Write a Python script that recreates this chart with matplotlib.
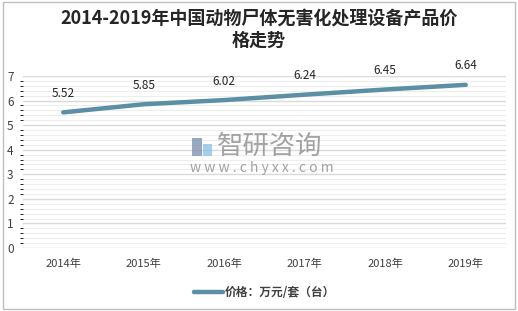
import matplotlib
matplotlib.use("Agg")
import matplotlib.pyplot as plt
from matplotlib.patches import Rectangle
import numpy as np

plt.rcParams['font.family'] = ['Noto Sans CJK SC', 'DejaVu Sans']

years = ["2014年", "2015年", "2016年", "2017年", "2018年", "2019年"]
prices = [5.52, 5.85, 6.02, 6.24, 6.45, 6.64]
yticks = [0, 1, 2, 3, 4, 5, 6, 7]
title = "2014-2019年中国动物尸体无害化处理设备产品价\n格走势"
series_name = "价格：万元/套（台）"

fig = plt.figure(figsize=(5.18, 3.11), dpi=100)
fig.patches.append(Rectangle((0.006, 0.006), 0.988, 0.988, transform=fig.transFigure,
                             fill=False, edgecolor='#BFBFBF', linewidth=1))
ax = fig.add_axes([23/518, 1-248/311, (506-23)/518, (248-76)/311])

x = np.arange(len(years))
line_color = '#5B8FA6'
ax.plot(x, prices, color=line_color, linewidth=3.2, solid_capstyle='round', zorder=3,
        label=series_name)
for xi, v in zip(x, prices):
    ax.annotate(f"{v:.2f}", (xi, v), xytext=(0, 9), textcoords='offset points',
                ha='center', va='bottom', fontsize=8.5, color='#262626')

ax.set_xlim(-0.5, len(years) - 0.5)
ax.set_ylim(0, 7)
ax.set_yticks(yticks)
ax.set_yticks(np.arange(0, 7.01, 0.2), minor=True)
ax.set_xticks(x)
ax.set_xticklabels(years, fontsize=8, color='#404040')
ax.set_yticklabels([str(t) for t in yticks], fontsize=8.5, color='#404040')
ax.grid(axis='y', which='major', color='#D9D9D9', linewidth=1)
ax.grid(axis='y', which='minor', color='#EDEDED', linewidth=0.8)
ax.tick_params(axis='both', length=0)
ax.tick_params(axis='y', pad=11.5)
ax.tick_params(axis='x', pad=8)
for lbl in ax.get_yticklabels():
    lbl.set_horizontalalignment('left')
for s in ax.spines.values():
    s.set_visible(False)
ax.set_axisbelow(True)

fig.text(0.5, 1 - 29/311, title, ha='center', va='center', fontsize=13,
         fontweight='bold', color='#262626', linespacing=1.25)

# watermark
fig.text(217/518, 1 - 146/311, "智研咨询", ha='left', va='center', fontsize=19,
         color='#8C8C8C', alpha=0.8)
fig.text(190/518, 1 - 168/311, "w w w . c h y x x . c o m", ha='left', va='center',
         fontsize=10, color='#8C8C8C', alpha=0.8)
fig.patches.append(Rectangle((192/518, 1-156/311), 10/518, 18/311, transform=fig.transFigure,
                             facecolor='#7F93B5', edgecolor='none', alpha=0.8))
fig.patches.append(Rectangle((203/518, 1-156/311), 9/518, 12/311, transform=fig.transFigure,
                             facecolor='#8CC4E6', edgecolor='none', alpha=0.8))

leg = ax.legend(loc='center', bbox_to_anchor=(0.5, (248-293)/(248-76)),
                frameon=False, fontsize=8.5, handlelength=2.5, handletextpad=0.1)
for t in leg.get_texts():
    t.set_color('#404040')
    t.set_fontweight('bold')

fig.savefig("out.png", dpi=100)
